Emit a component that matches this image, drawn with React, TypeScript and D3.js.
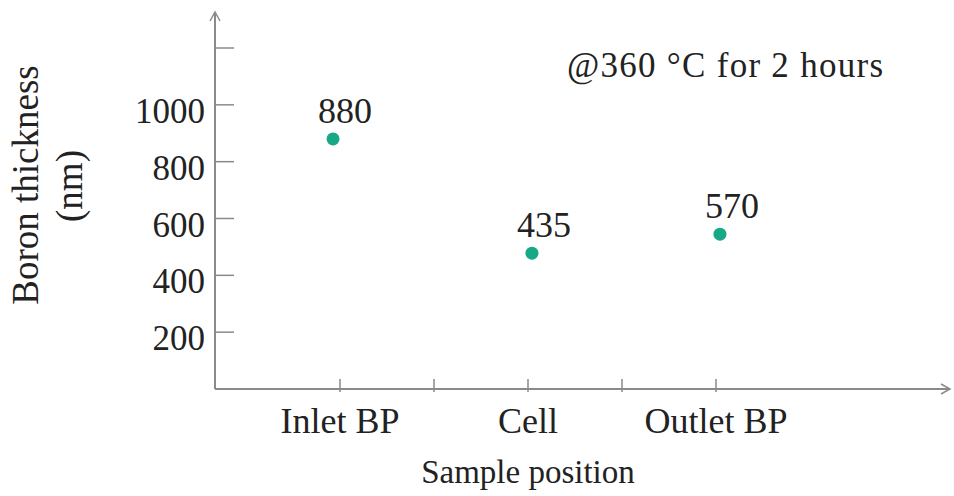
import React from "react";
import * as d3 from "d3";

const categories = ["Inlet BP", "Cell", "Outlet BP"];
const categoryX = [1, 2, 3];
const pointX = [0.963, 2.021, 3.021];
const pointValues = [880, 478, 545];
const pointLabels = ["880", "435", "570"];
const yTicks = [200, 400, 600, 800, 1000];
const yTickMarks = [200, 400, 600, 800, 1000, 1200];
const xTickMarks = [1, 1.5, 2, 2.5, 3];
const annotation = "@360 °C for 2 hours";

const W = 954;
const H = 496;
const FONT = "'Liberation Serif', 'Times New Roman', serif";
const AXIS = "#8a8a8a";

export default function App() {
  const y = d3.scaleLinear().domain([0, 1200]).range([389, 48]);
  const x = d3.scaleLinear().domain([1, 3]).range([340, 716]);
  const x0 = 215;
  const y0 = y(0);
  const yTop = 12;
  const xEnd = 950;

  return (
    <svg
      width={W}
      height={H}
      style={{ position: "absolute", left: 0, top: 0, background: "#fff" }}
      fontFamily={FONT}
    >
      {/* axes */}
      <line x1={x0} y1={y0} x2={x0} y2={yTop} stroke={AXIS} strokeWidth={2} />
      <line x1={x0} y1={y0} x2={xEnd} y2={y0} stroke={AXIS} strokeWidth={2} />
      <path
        d={`M${x0 - 5},${yTop + 9} L${x0},${yTop} L${x0 + 5},${yTop + 9}`}
        fill="none"
        stroke={AXIS}
        strokeWidth={1.5}
      />
      <path
        d={`M${xEnd - 9},${y0 - 5} L${xEnd},${y0} L${xEnd - 9},${y0 + 5}`}
        fill="none"
        stroke={AXIS}
        strokeWidth={1.5}
      />
      {/* y tick marks */}
      {yTickMarks.map((t) => (
        <line key={t} x1={x0} x2={x0 + 19} y1={y(t)} y2={y(t)} stroke={AXIS} strokeWidth={1.5} />
      ))}
      {yTicks.map((t) => (
        <text
          key={t}
          x={205}
          y={y(t) + 18}
          textAnchor="end"
          fontSize={35}
          fill="#222"
        >
          {t}
        </text>
      ))}
      {/* x tick marks */}
      {xTickMarks.map((t) => (
        <line key={t} x1={x(t)} x2={x(t)} y1={y0 - 10} y2={y0 + 3} stroke={AXIS} strokeWidth={1.5} />
      ))}
      {categories.map((c, i) => (
        <text
          key={c}
          x={x(categoryX[i])}
          y={433}
          textAnchor="middle"
          fontSize={36}
          fill="#222"
        >
          {c}
        </text>
      ))}
      {/* axis titles */}
      <text x={528} y={483} textAnchor="middle" fontSize={33} fill="#222">
        Sample position
      </text>
      <text
        transform={`translate(38,185) rotate(-90)`}
        textAnchor="middle"
        fontSize={37}
        fill="#222"
      >
        Boron thickness
      </text>
      <text
        transform={`translate(82,186) rotate(-90)`}
        textAnchor="middle"
        fontSize={37}
        fill="#222"
      >
        (nm)
      </text>
      {/* annotation */}
      <text
        x={567}
        y={77}
        fontSize={35}
        fill="#222"
        textLength={316}
        lengthAdjust="spacing"
      >
        {annotation}
      </text>
      {/* points */}
      {pointValues.map((v, i) => (
        <g key={i}>
          <circle cx={x(pointX[i])} cy={y(v)} r={6.5} fill="#17a985" />
          <text
            x={x(pointX[i]) + 12}
            y={y(v) - 16}
            textAnchor="middle"
            fontSize={36}
            fill="#222"
          >
            {pointLabels[i]}
          </text>
        </g>
      ))}
    </svg>
  );
}
